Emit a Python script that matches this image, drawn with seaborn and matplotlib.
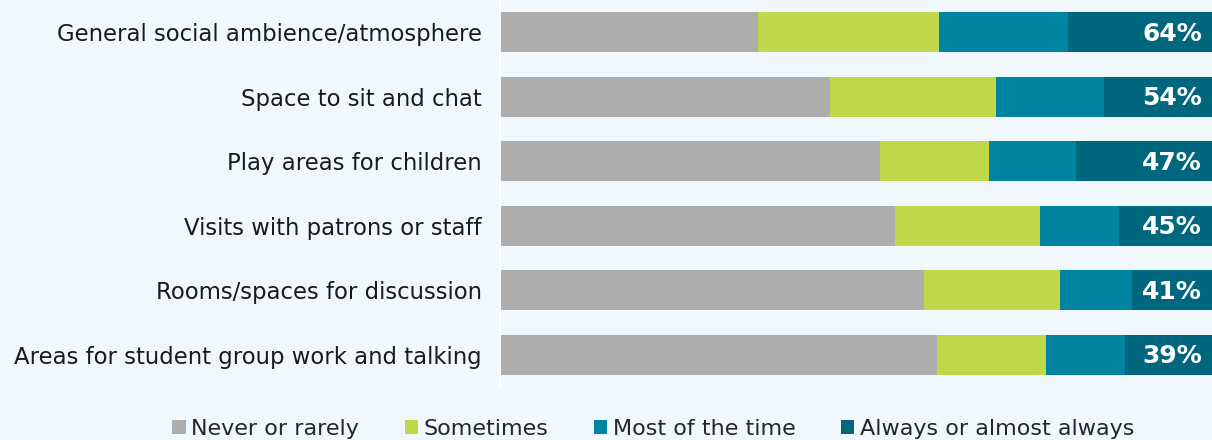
import numpy as np
import pandas as pd
import matplotlib
matplotlib.use('Agg')
import matplotlib.pyplot as plt
from matplotlib.patches import Patch
import seaborn as sns

# dados (%)
categorias = ['General social ambience/atmosphere', 'Space to sit and chat',
              'Play areas for children', 'Visits with patrons or staff',
              'Rooms/spaces for discussion', 'Areas for student group work and talking']
nunca = [36.3, 46.4, 53.4, 55.5, 59.5, 61.4]
as_vezes = [25.3, 23.3, 15.3, 20.3, 19.2, 15.3]
maioria = [18.2, 15.2, 12.2, 11.2, 10.1, 11.1]
sempre = [20.2, 15.1, 19.1, 13.0, 11.2, 12.2]
rotulos = ['64%', '54%', '47%', '45%', '41%', '39%']

series = ['Never or rarely', 'Sometimes', 'Most of the time', 'Always or almost always']
cores = ['#adadad', '#bfd849', '#00849f', '#00677f']
fundo = '#f0f7fd'

sns.set_style('white')
plt.rcParams['font.family'] = ['DejaVu Sans']

fig = plt.figure(figsize=(12.12, 4.40), dpi=100, facecolor=fundo)
ax = fig.add_axes([500 / 1212, 1 - 387 / 440, 712 / 1212, 387 / 440])
ax.set_facecolor(fundo)

# barras empilhadas: desenha os acumulados do maior para o menor
valores = np.array([nunca, as_vezes, maioria, sempre])
acumulado = np.cumsum(valores, axis=0)
for k in range(3, -1, -1):
    df = pd.DataFrame({'cat': categorias, 'val': acumulado[k]})
    sns.barplot(data=df, x='val', y='cat', color=cores[k], saturation=1,
                width=0.62, errorbar=None, linewidth=0, ax=ax)

for i, txt in enumerate(rotulos):
    ax.text(98.6, i + 0.02, txt, ha='right', va='center', color='white',
            fontsize=18, fontweight='bold')

ax.set_xlim(0, 100)
ax.set_ylim(5.5, -0.5)
ax.set_xlabel('')
ax.set_ylabel('')
ax.set_xticks([])
ax.tick_params(axis='y', which='major', length=0, pad=13, labelsize=16.4, labelcolor='#1a1a1a')
ax.set_yticks(np.arange(-0.5, 6), minor=True)
ax.tick_params(axis='y', which='minor', length=5, width=1.5, color='white')
for s in ['top', 'right', 'bottom']:
    ax.spines[s].set_visible(False)
ax.spines['left'].set_color('white')
ax.spines['left'].set_linewidth(1.5)

handles = [Patch(facecolor=c, edgecolor='none', label=s) for c, s in zip(cores, series)]
fig.legend(handles=handles, loc='lower center', bbox_to_anchor=(0.539, -0.043), ncol=4,
           frameon=False, fontsize=16, handlelength=0.6, handleheight=0.6,
           handletextpad=0.25, columnspacing=2.05)

fig.savefig('out.png', dpi=100, facecolor=fundo)
